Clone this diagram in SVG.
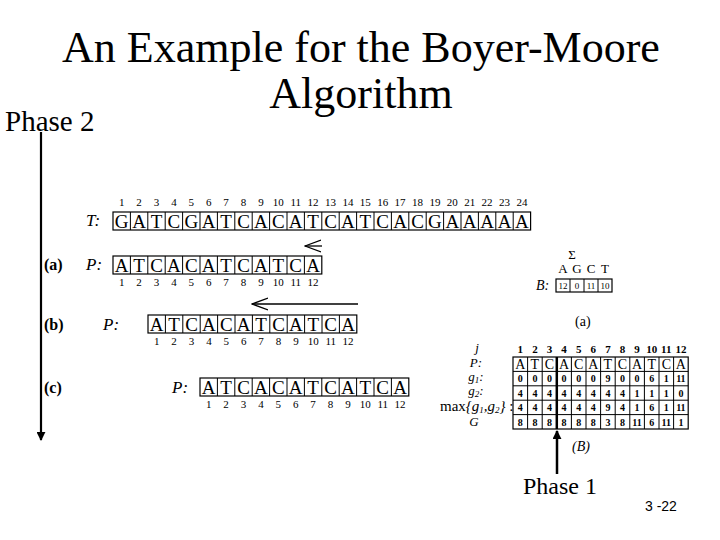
<svg xmlns="http://www.w3.org/2000/svg" xmlns:xlink="http://www.w3.org/1999/xlink" width="720" height="540" viewBox="0 0 720 540">
<style>
text{font-family:"Liberation Serif","Times New Roman",serif;fill:#000}
.title{font-size:44px;text-anchor:middle}
.phase{font-size:29px}
.cell{fill:none;stroke:#000;stroke-width:1.2}
.div{fill:none;stroke:#000;stroke-width:1}
.let{font-size:19px;text-anchor:middle}
.num{font-size:11px;text-anchor:middle}
.lab{font-size:16px;font-weight:bold}
.it{font-size:17px;font-style:italic}
.gv{font-size:10px;text-anchor:middle;font-weight:bold}
.gl{font-size:14px;text-anchor:middle}
.sm{font-size:13px;text-anchor:middle}
.rl{font-size:13px;font-style:italic;text-anchor:middle}
.arr{fill:none;stroke:#000;stroke-width:1.3}
.thick{stroke:#000;stroke-width:2.5;fill:none}
.pg{font-family:"Liberation Sans",Arial,sans-serif;font-size:14px}
</style>
<defs>
<marker id="fill" viewBox="0 0 10 10" refX="9" refY="5" markerWidth="9" markerHeight="9" markerUnits="userSpaceOnUse" orient="auto">
<path d="M0,0 L10,5 L0,10 z"/>
</marker>
<marker id="open" viewBox="0 0 17 14" refX="16" refY="7" markerWidth="17" markerHeight="14" markerUnits="userSpaceOnUse" orient="auto">
<path d="M0,1 L16,7 L0,13" fill="none" stroke="#000" stroke-width="1.2"/>
</marker>
<g id="pat">
<rect class="cell" x="0" y="0" width="208.8" height="18"/>
<path class="div" d="M17.4,0v18M34.8,0v18M52.2,0v18M69.6,0v18M87,0v18M104.4,0v18M121.8,0v18M139.2,0v18M156.6,0v18M174,0v18M191.4,0v18"/>
<text class="let" x="8.7 26.1 43.5 60.9 78.3 95.7 113.1 130.5 147.9 165.3 182.7 200.1" y="15.5">ATCACATCATCA</text>
<text class="num" y="30"><tspan x="8.7">1</tspan><tspan x="26.1">2</tspan><tspan x="43.5">3</tspan><tspan x="60.9">4</tspan><tspan x="78.3">5</tspan><tspan x="95.7">6</tspan><tspan x="113.1">7</tspan><tspan x="130.5">8</tspan><tspan x="147.9">9</tspan><tspan x="165.3">10</tspan><tspan x="182.7">11</tspan><tspan x="200.1">12</tspan></text>
</g>
</defs>
<rect width="720" height="540" fill="#fff"/>

<g id="title">
<text class="title" x="361" y="62">An Example for the Boyer-Moore</text>
<text class="title" x="361" y="108">Algorithm</text>
</g>

<g id="phase2"><text class="phase" x="5" y="131">Phase 2</text></g>
<g id="phase1"><text class="phase" x="523" y="494" style="font-size:24px">Phase 1</text></g>

<g id="text-T">
<text class="it" x="86" y="226">T:</text>
<text class="num" y="206"><tspan x="121.7">1</tspan><tspan x="139.1">2</tspan><tspan x="156.5">3</tspan><tspan x="173.9">4</tspan><tspan x="191.3">5</tspan><tspan x="208.7">6</tspan><tspan x="226.1">7</tspan><tspan x="243.5">8</tspan><tspan x="260.9">9</tspan><tspan x="278.3">10</tspan><tspan x="295.7">11</tspan><tspan x="313.1">12</tspan><tspan x="330.5">13</tspan><tspan x="347.9">14</tspan><tspan x="365.3">15</tspan><tspan x="382.7">16</tspan><tspan x="400.1">17</tspan><tspan x="417.5">18</tspan><tspan x="434.9">19</tspan><tspan x="452.3">20</tspan><tspan x="469.7">21</tspan><tspan x="487.1">22</tspan><tspan x="504.5">23</tspan><tspan x="521.9">24</tspan></text>
<rect class="cell" x="113" y="212" width="417.6" height="18"/>
<path class="div" d="M130.4,212v18M147.8,212v18M165.2,212v18M182.6,212v18M200,212v18M217.4,212v18M234.8,212v18M252.2,212v18M269.6,212v18M287,212v18M304.4,212v18M321.8,212v18M339.2,212v18M356.6,212v18M374,212v18M391.4,212v18M408.8,212v18M426.2,212v18M443.6,212v18M461,212v18M478.4,212v18M495.8,212v18M513.2,212v18"/>
<text class="let" x="121.7 139.1 156.5 173.9 191.3 208.7 226.1 243.5 260.9 278.3 295.7 313.1 330.5 347.9 365.3 382.7 400.1 417.5 434.9 452.3 469.7 487.1 504.5 521.9" y="227.5">GATCGATCACATCATCACGAAAAA</text>
</g>

<g id="step-a">
<text class="lab" x="44" y="270">(a)</text>
<text class="it" x="86" y="270">P:</text>
<use xlink:href="#pat" href="#pat" x="113" y="256"/>
</g>

<g id="step-b">
<text class="lab" x="44" y="330">(b)</text>
<text class="it" x="103" y="330">P:</text>
<use xlink:href="#pat" href="#pat" x="148" y="315"/>
</g>

<g id="step-c">
<text class="lab" x="44" y="393">(c)</text>
<text class="it" x="172" y="393">P:</text>
<use xlink:href="#pat" href="#pat" x="200" y="378"/>
</g>

<g id="table-B">
<text class="sm" x="572" y="259">Σ</text>
<text class="sm" x="563 577 591 605" y="273">AGCT</text>
<text class="it" x="536" y="290" style="font-size:14px">B:</text>
<rect class="cell" x="556" y="279" width="56" height="13"/>
<path class="div" d="M570,279v13M584,279v13M598,279v13"/>
<text class="gv" y="289" style="font-weight:normal;font-size:9px"><tspan x="563">12</tspan><tspan x="577">0</tspan><tspan x="591">11</tspan><tspan x="605">10</tspan></text>
<text x="575" y="326" style="font-size:14px">(a)</text>
</g>

<g id="table-G">
<text class="rl" x="477" y="352">j</text>
<text class="rl" x="476" y="367">P:</text>
<text class="rl" x="476" y="381">g<tspan dy="2" style="font-size:9px">1</tspan><tspan dy="-2">:</tspan></text>
<text class="rl" x="476" y="395">g<tspan dy="2" style="font-size:9px">2</tspan><tspan dy="-2">:</tspan></text>
<text x="440" y="411" style="font-size:15px">max<tspan style="font-style:italic">{g<tspan dy="2" style="font-size:9px">1</tspan><tspan dy="-2">,g</tspan><tspan dy="2" style="font-size:9px">2</tspan><tspan dy="-2">}</tspan></tspan> :</text>
<text class="rl" x="474" y="426">G</text>
<text class="num" y="353" style="font-weight:bold"><tspan x="520.3">1</tspan><tspan x="534.9">2</tspan><tspan x="549.5">3</tspan><tspan x="564.1">4</tspan><tspan x="578.7">5</tspan><tspan x="593.3">6</tspan><tspan x="607.9">7</tspan><tspan x="622.5">8</tspan><tspan x="637.1">9</tspan><tspan x="651.7">10</tspan><tspan x="666.3">11</tspan><tspan x="680.9">12</tspan></text>
<rect class="cell" x="513" y="357" width="175.2" height="72"/>
<path class="div" d="M513,371.4h175.2M513,385.8h175.2M513,400.2h175.2M513,414.6h175.2M527.6,357v72M542.2,357v72M571.4,357v72M586,357v72M600.6,357v72M615.2,357v72M629.8,357v72M644.4,357v72M659,357v72M673.6,357v72"/>
<path class="thick" d="M556.8,357v72"/>
<text class="gl" x="520.3 534.9 549.5 564.1 578.7 593.3 607.9 622.5 637.1 651.7 666.3 680.9" y="369">ATCACATCATCA</text>
<text class="gv" y="382"><tspan x="520.3">0</tspan><tspan x="534.9">0</tspan><tspan x="549.5">0</tspan><tspan x="564.1">0</tspan><tspan x="578.7">0</tspan><tspan x="593.3">0</tspan><tspan x="607.9">9</tspan><tspan x="622.5">0</tspan><tspan x="637.1">0</tspan><tspan x="651.7">6</tspan><tspan x="666.3">1</tspan><tspan x="680.9">11</tspan></text>
<text class="gv" y="396.5"><tspan x="520.3">4</tspan><tspan x="534.9">4</tspan><tspan x="549.5">4</tspan><tspan x="564.1">4</tspan><tspan x="578.7">4</tspan><tspan x="593.3">4</tspan><tspan x="607.9">4</tspan><tspan x="622.5">4</tspan><tspan x="637.1">1</tspan><tspan x="651.7">1</tspan><tspan x="666.3">1</tspan><tspan x="680.9">0</tspan></text>
<text class="gv" y="411"><tspan x="520.3">4</tspan><tspan x="534.9">4</tspan><tspan x="549.5">4</tspan><tspan x="564.1">4</tspan><tspan x="578.7">4</tspan><tspan x="593.3">4</tspan><tspan x="607.9">9</tspan><tspan x="622.5">4</tspan><tspan x="637.1">1</tspan><tspan x="651.7">6</tspan><tspan x="666.3">1</tspan><tspan x="680.9">11</tspan></text>
<text class="gv" y="425.5"><tspan x="520.3">8</tspan><tspan x="534.9">8</tspan><tspan x="549.5">8</tspan><tspan x="564.1">8</tspan><tspan x="578.7">8</tspan><tspan x="593.3">8</tspan><tspan x="607.9">3</tspan><tspan x="622.5">8</tspan><tspan x="637.1">11</tspan><tspan x="651.7">6</tspan><tspan x="666.3">11</tspan><tspan x="680.9">1</tspan></text>
<text class="it" x="572" y="451" style="font-size:14px">(B)</text>
</g>

<g id="connectors">
<line x1="41" y1="132" x2="41" y2="440" stroke="#000" stroke-width="2.2" marker-end="url(#fill)"/>
<line x1="557" y1="474" x2="557" y2="431" stroke="#000" stroke-width="2.5" marker-end="url(#fill)"/>
<line class="arr" x1="322" y1="246" x2="305" y2="246" marker-end="url(#open)"/>
<line class="arr" x1="358" y1="304" x2="252" y2="304" marker-end="url(#open)"/>
</g>

<g id="page"><text class="pg" x="645" y="511">3 -22</text></g>
</svg>
